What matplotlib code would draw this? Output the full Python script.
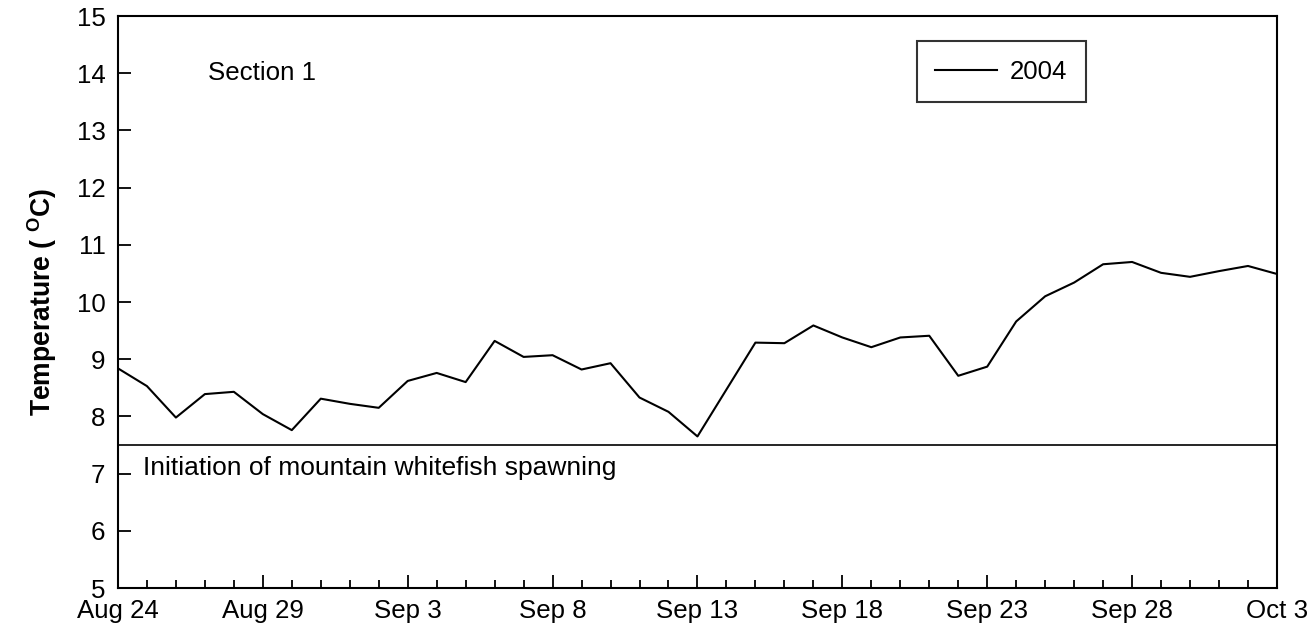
import datetime as dt
import matplotlib
matplotlib.use('Agg')
import matplotlib.pyplot as plt
import matplotlib.dates as mdates

# daily mean water temperature, Section 1, 2004 (no reading on Sep 14)
start = dt.date(2004, 8, 24)
day_offsets = [0, 1, 2, 3, 4, 5, 6, 7, 8, 9,
               10, 11, 12, 13, 14, 15, 16, 17, 18, 19,
               20, 22, 23, 24, 25, 26, 27, 28, 29, 30,
               31, 32, 33, 34, 35, 36, 37, 38, 39, 40]
temps = [8.84, 8.53, 7.98, 8.39, 8.43, 8.04, 7.76, 8.31, 8.22, 8.15,
         8.62, 8.76, 8.60, 9.32, 9.04, 9.07, 8.82, 8.93, 8.33, 8.08,
         7.65, 9.29, 9.28, 9.59, 9.38, 9.21, 9.38, 9.41, 8.71, 8.87,
         9.66, 10.10, 10.34, 10.66, 10.70, 10.51, 10.44, 10.54, 10.63, 10.49]
spawn_temp = 7.5
n_days = 40

dates = [start + dt.timedelta(days=d) for d in day_offsets]

plt.rcParams['font.family'] = ['Liberation Sans', 'DejaVu Sans']
plt.rcParams['mathtext.fontset'] = 'custom'
plt.rcParams['mathtext.rm'] = 'Liberation Sans'
plt.rcParams['mathtext.bf'] = 'Liberation Sans:bold'

fs = 18.6

fig = plt.figure(figsize=(13.12, 6.35), dpi=100)
ax = fig.add_axes([0.0899, 0.074, 0.8834, 0.9008])

ax.plot(dates, temps, color='black', lw=1.5, label='2004')
ax.axhline(spawn_temp, color='black', lw=1.2)

ax.set_xlim(start, start + dt.timedelta(days=n_days))
ax.set_ylim(5, 15)

major = [start + dt.timedelta(days=d) for d in range(0, n_days + 1, 5)]
minor = [start + dt.timedelta(days=d) for d in range(0, n_days + 1)]
ax.set_xticks(major)
ax.set_xticks(minor, minor=True)
ax.xaxis.set_major_formatter(mdates.DateFormatter('%b %-d'))
ax.set_yticks(range(5, 16))

ax.tick_params(axis='both', which='major', direction='in', length=9.5, width=1.3,
               labelsize=fs, pad=8, top=False, right=False)
ax.tick_params(axis='x', which='minor', direction='in', length=6, width=1.3, top=False)
ax.tick_params(axis='y', pad=9)
for s in ax.spines.values():
    s.set_linewidth(1.5)

ax.set_ylabel(r'Temperature ( $^{\mathbf{O}}$C)', fontsize=fs + 0.5, fontweight='bold', labelpad=13)

ax.text(0.0777, 14.0, 'Section 1', fontsize=fs, va='center', ha='left',
        transform=ax.get_yaxis_transform())
ax.text(0.0212, 7.1, 'Initiation of mountain whitefish spawning', fontsize=fs + 0.4,
        va='center', ha='left', transform=ax.get_yaxis_transform())

leg = ax.legend(loc='upper left', bbox_to_anchor=(0.689, 0.956), fontsize=fs,
                frameon=True, fancybox=False, shadow=False, handlelength=2.4,
                handletextpad=0.5, borderpad=0.72, borderaxespad=0)
leg.get_frame().set_edgecolor('black')
leg.get_frame().set_linewidth(1.5)

fig.savefig('out.png', dpi=100)
